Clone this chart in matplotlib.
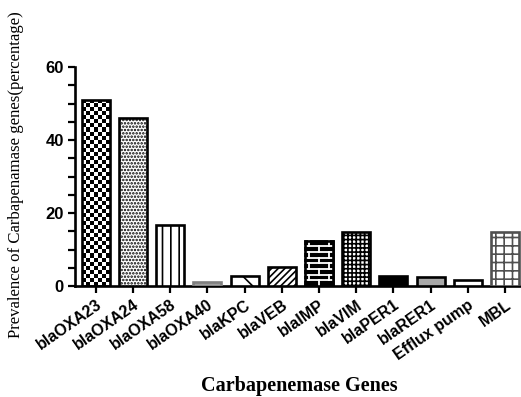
import numpy as np
import matplotlib
matplotlib.use("Agg")
import matplotlib.pyplot as plt
from matplotlib.ticker import MultipleLocator

genes = ["blaOXA23", "blaOXA24", "blaOXA58", "blaOXA40", "blaKPC", "blaVEB",
         "blaIMP", "blaVIM", "blaPER1", "blaRER1", "Efflux pump", "MBL"]
prevalence = [51, 46, 16.7, 1.2, 2.7, 5.3, 12.3, 14.7, 2.7, 2.4, 1.6, 14.7]

# per-bar fill styles: (facecolor, edgecolor, hatch)
styles = [
    ("white", "black", None),      # checkerboard drawn separately
    ("white", "black", "....."),
    ("white", "black", "||"),
    ("#a0a0a0", "#808080", None),
    ("white", "black", "\\"),
    ("white", "black", "/////"),
    ("black", "black", None),      # brick drawn separately
    ("white", "black", "++++"),
    ("black", "black", None),
    ("#a8a8a8", "black", None),
    ("white", "black", "-"),
    ("white", "#505050", "++"),
]

plt.rcParams["hatch.linewidth"] = 1.2

fig = plt.figure(figsize=(5.21, 3.97), dpi=100)
ax = fig.add_axes([0.144, 0.2796, 0.856, 0.5516])

x = np.arange(len(genes))
width = 0.75
bars = ax.bar(x, prevalence, width=width, zorder=3)
for bar, (fc, ec, hatch) in zip(bars, styles):
    bar.set_facecolor(fc)
    bar.set_edgecolor(ec)
    bar.set_linewidth(1.9)
    if hatch:
        bar.set_hatch(hatch)

# checkerboard fill for the first bar
b0 = bars[0]
ncol = 7
nrow = int(round(b0.get_height() / 1.1))
board = np.indices((nrow, ncol)).sum(axis=0) % 2
img = ax.imshow(board, cmap="gray", interpolation="nearest", aspect="auto",
                extent=(b0.get_x(), b0.get_x() + b0.get_width(), 0, b0.get_height()),
                zorder=2)
img.set_clip_path(b0)
b0.set_facecolor("none")

# brick pattern (white mortar on black) for blaIMP
b6 = bars[6]
bx0, bw, bh = b6.get_x(), b6.get_width(), b6.get_height()
row_h = 1.55
y = row_h
while y < bh:
    ax.plot([bx0, bx0 + bw], [y, y], color="white", lw=1.3, zorder=4)
    y += row_h
for r in range(int(bh / row_h) + 1):
    y0, y1 = r * row_h, min((r + 1) * row_h, bh)
    offs = [0.5] if r % 2 == 0 else [0.15, 0.85]
    for o in offs:
        ax.plot([bx0 + o * bw] * 2, [y0, y1], color="white", lw=1.3, zorder=4)
outline = plt.Rectangle((bx0, 0), bw, bh, fill=False, ec="black", lw=1.9, zorder=5)
ax.add_patch(outline)

ax.set_xlim(-0.56, 11.43)
ax.set_ylim(0, 60)
ax.yaxis.set_major_locator(MultipleLocator(20))
ax.yaxis.set_minor_locator(MultipleLocator(5))
ax.set_xticks(x)
ax.set_xticklabels(genes, rotation=35, ha="right", rotation_mode="anchor",
                   fontsize=11.5, fontweight="bold", family="Liberation Sans")
for lab in ax.get_yticklabels():
    lab.set_fontweight("bold")
    lab.set_family("Liberation Sans")
    lab.set_fontsize(12)

ax.tick_params(axis="both", which="both", direction="out", width=1.6, length=5)
ax.tick_params(axis="x", pad=3)
ax.tick_params(axis="y", pad=3)
for side in ("top", "right"):
    ax.spines[side].set_visible(False)
for side in ("left", "bottom"):
    ax.spines[side].set_linewidth(1.9)

fig.text(0.03, 0.56, "Prevalence of Carbapenamase genes(percentage)",
         rotation=90, ha="center", va="center", fontsize=12.1,
         family="Liberation Serif")
fig.text(0.575, 0.028, "Carbapenemase Genes", ha="center", va="center",
         fontsize=14.5, fontweight="bold", family="Liberation Serif")

fig.savefig("out.png", dpi=100)
